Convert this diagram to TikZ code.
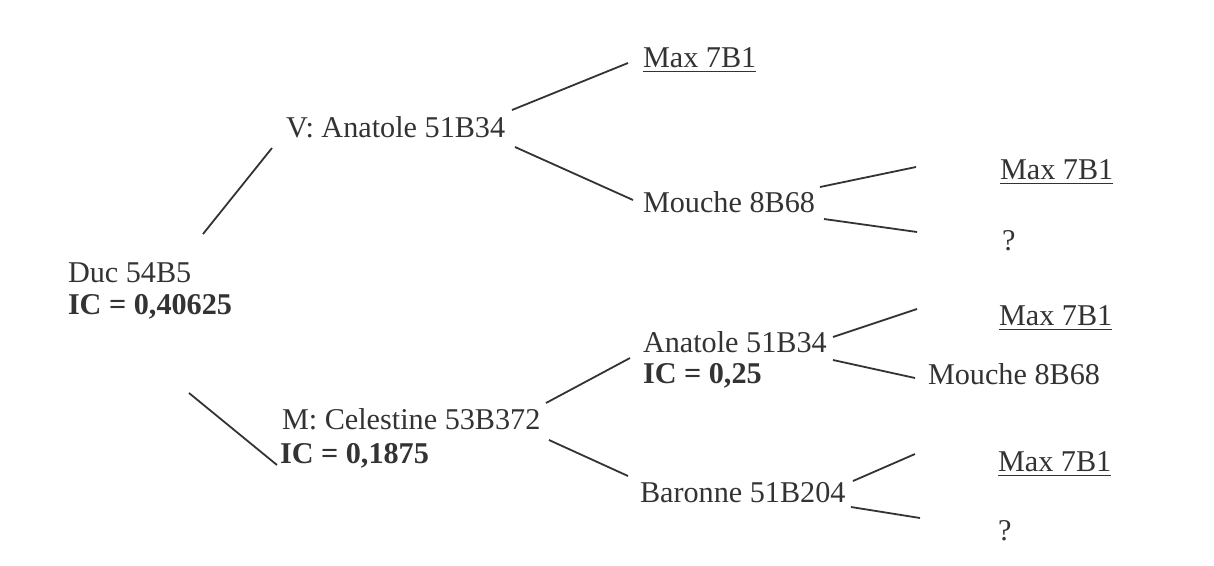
\documentclass[tikz,border=0pt]{standalone}
\usepackage{fontspec}
\setmainfont{Liberation Serif}
\definecolor{ink}{HTML}{333333}
\begin{document}
\begin{tikzpicture}[x=1pt,y=-1pt,
  lbl/.style={anchor=base west,inner sep=0pt,outer sep=0pt,text=ink,font=\fontsize{30.2}{32}\selectfont},
  bold/.style={lbl,font=\fontsize{30.2}{32}\selectfont\bfseries},
  edge/.style={draw=ink,line width=1.8pt},
  uline/.style={draw=ink,line width=1.6pt}]
\useasboundingbox[fill=white] (0,0) rectangle (1214,565);
% nodes
\node[lbl]  (duc)     at (68,282)  {Duc 54B5};
\node[bold] (ducic)   at (68,314)  {IC = 0,40625};
\node[lbl]  (v)       at (286,137) {V: Anatole 51B34};
\node[lbl]  (max1)    at (643,67)  {Max 7B1};
\node[lbl]  (mouche1) at (643,212) {Mouche 8B68};
\node[lbl]  (max2)    at (1000,179) {Max 7B1};
\node[lbl]  (q1)      at (1002,250) {?};
\node[lbl]  (cel)     at (282,429) {M: Celestine 53B372};
\node[bold] (celic)   at (280,463) {IC = 0,1875};
\node[lbl]  (anat)    at (643,352) {Anatole 51B34};
\node[bold] (anatic)  at (643,383) {IC = 0,25};
\node[lbl]  (max3)    at (999,325) {Max 7B1};
\node[lbl]  (mouche2) at (928,384) {Mouche 8B68};
\node[lbl]  (baron)   at (640,502) {Baronne 51B204};
\node[lbl]  (max4)    at (998,471) {Max 7B1};
\node[lbl]  (q2)      at (998,540) {?};
% underlines
\foreach \m in {max1,max2,max3,max4}
  \draw[uline] ([yshift=-4.5pt]\m.base west) -- ([yshift=-4.5pt]\m.base east);
% connectors
\draw[edge] ([shift={(135,-48)}]duc.base west) -- ([shift={(-14,11)}]v.base west);
\draw[edge] ([shift={(226,-27)}]v.base west) -- ([shift={(-15,-4)}]max1.base west);
\draw[edge] ([shift={(229,10)}]v.base west) -- ([shift={(-10,-12)}]mouche1.base west);
\draw[edge] ([shift={(177,-25)}]mouche1.base west) -- ([shift={(-84,-12)}]max2.base west);
\draw[edge] ([shift={(181,7)}]mouche1.base west) -- ([shift={(-85,-18)}]q1.base west);
\draw[edge] ([shift={(121,111)}]duc.base west) -- ([shift={(-5,36)}]cel.base west);
\draw[edge] ([shift={(264,-26)}]cel.base west) -- ([shift={(-13,6)}]anat.base west);
\draw[edge] ([shift={(267,11)}]cel.base west) -- ([shift={(-12,-26)}]baron.base west);
\draw[edge] ([shift={(190,-15)}]anat.base west) -- ([shift={(-82,-16)}]max3.base west);
\draw[edge] ([shift={(190,8)}]anat.base west) -- ([shift={(-13,-6)}]mouche2.base west);
\draw[edge] ([shift={(213,-21)}]baron.base west) -- ([shift={(-83,-17)}]max4.base west);
\draw[edge] ([shift={(211,5)}]baron.base west) -- ([shift={(-78,-22)}]q2.base west);
\end{tikzpicture}
\end{document}
